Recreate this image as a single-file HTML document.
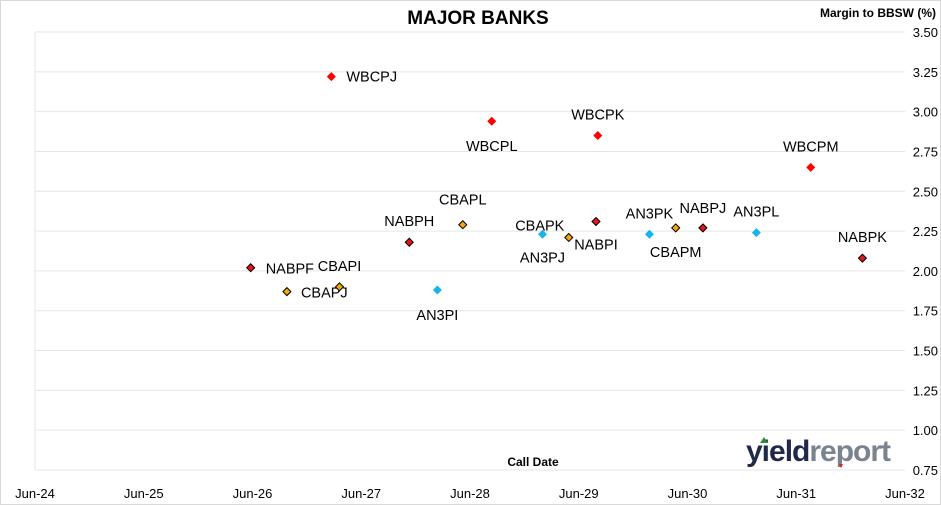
<!DOCTYPE html>
<html><head><meta charset="utf-8"><style>
body{margin:0;background:#fff;}
svg{display:block;font-family:"Liberation Sans",Arial,sans-serif;}
</style></head><body>
<svg id="chart" width="941" height="505">
<rect x="0.5" y="0.5" width="940" height="504" fill="#fff" stroke="#d9d9d9"/>
<g id="grid"></g>
<g id="ylabels"></g>
<g id="xlabels"></g>
<g id="points"></g>
<text x="478" y="24" text-anchor="middle" font-size="19" font-weight="bold">MAJOR BANKS</text>
<text x="936" y="17" text-anchor="end" font-size="12" font-weight="bold">Margin to BBSW (%)</text>
<text x="533" y="466" text-anchor="middle" font-size="12" font-weight="bold">Call Date</text>
<g>
<text x="746" y="461" font-size="30" font-weight="bold" fill="#1f2a4a" letter-spacing="-1">yield<tspan fill="#7b8290">report</tspan></text>
<polygon points="764,437 768,443 760,443" fill="#2e8b3a"/>
<polygon points="839,464 843,464 841,468" fill="#e02020"/>
</g>
</svg>
<script>
const categoriesMonths = ["Jun-24","Jun-25","Jun-26","Jun-27","Jun-28","Jun-29","Jun-30","Jun-31","Jun-32"];
const yTicks = [0.75,1.00,1.25,1.50,1.75,2.00,2.25,2.50,2.75,3.00,3.25,3.50];
// months since Jun-24
const wbcNames = ["WBCPJ","WBCPL","WBCPK","WBCPM"];
const wbcMonths = [32.7,50.4,62.1,85.6];
const wbcValues = [3.22,2.94,2.85,2.65];
const nabNames = ["NABPF","NABPH","NABPI","NABPJ","NABPK"];
const nabMonths = [23.8,41.3,61.9,73.7,91.3];
const nabValues = [2.02,2.18,2.31,2.27,2.08];
const cbaNames = ["CBAPJ","CBAPI","CBAPL","CBAPK","CBAPM"];
const cbaMonths = [27.8,33.6,47.2,58.9,70.7];
const cbaValues = [1.87,1.90,2.29,2.21,2.27];
const anzNames = ["AN3PI","AN3PJ","AN3PK","AN3PL"];
const anzMonths = [44.4,56.0,67.8,79.6];
const anzValues = [1.88,2.23,2.23,2.24];

const NS="http://www.w3.org/2000/svg";
const X0=35,X1=905,Y0=470,Y1=32,YMIN=0.75,YMAX=3.5,MMAX=96;
function xs(m){return X0+(X1-X0)*m/MMAX;}
function ys(v){return Y0-(Y0-Y1)*(v-YMIN)/(YMAX-YMIN);}
function mk(tag,attrs,parent){const e=document.createElementNS(NS,tag);for(const k in attrs)e.setAttribute(k,attrs[k]);parent.appendChild(e);return e;}
const grid=document.getElementById('grid'),yl=document.getElementById('ylabels'),xl=document.getElementById('xlabels'),pts=document.getElementById('points');
mk('line',{x1:X0,x2:X0,y1:Y1,y2:Y0,stroke:'#e6e6e6'},grid);
yTicks.forEach(v=>{
  const l=mk('line',{x1:X0,x2:X1,y1:ys(v),y2:ys(v),stroke:'#e6e6e6'},grid);
  
  
  const t=mk('text',{x:938,y:ys(v)+5,'text-anchor':'end','font-size':13},yl);
  t.textContent=v.toFixed(2);
  
  
});
categoriesMonths.forEach((c,i)=>{
  const t=mk('text',{x:xs(i*12),y:498,'text-anchor':'middle','font-size':13},xl);
  t.textContent=c;
  
  
});
// label offsets (dx,dy,anchor) per point
const wbcLab=[[15,5,'start'],[0,30,'middle'],[0,-16,'middle'],[0,-16,'middle']];
const nabLab=[[15,6,'start'],[0,-16,'middle'],[0,28,'middle'],[0,-15,'middle'],[0,-16,'middle']];
const cbaLab=[[14,6,'start'],[0,-16,'middle'],[0,-20,'middle'],[-29,-7,'middle'],[0,29,'middle']];
const anzLab=[[0,30,'middle'],[0,28,'middle'],[0,-16,'middle'],[0,-16,'middle']];
function series(names,months,values,labs,fill,stroke,sz,key){
  names.forEach((n,i)=>{
    const x=xs(months[i]),y=ys(values[i]);
    const p=mk('polygon',{points:`${x},${y-sz} ${x+sz},${y} ${x},${y+sz} ${x-sz},${y}`,fill:fill,stroke:stroke,'stroke-width':stroke==='none'?0:1},pts);
    
    
    const L=labs[i];
    const t=mk('text',{x:x+L[0],y:y+L[1],'text-anchor':L[2],'font-size':14.5},pts);
    t.textContent=n;
    
    
  });
}
series(wbcNames,wbcMonths,wbcValues,wbcLab,'#ff0000','none',4.5,'wbc');
series(nabNames,nabMonths,nabValues,nabLab,'#e8141c','#000',4,'nab');
series(cbaNames,cbaMonths,cbaValues,cbaLab,'#f5a800','#000',4,'cba');
series(anzNames,anzMonths,anzValues,anzLab,'#13b5ea','none',4.5,'anz');
</script>
</body></html>
